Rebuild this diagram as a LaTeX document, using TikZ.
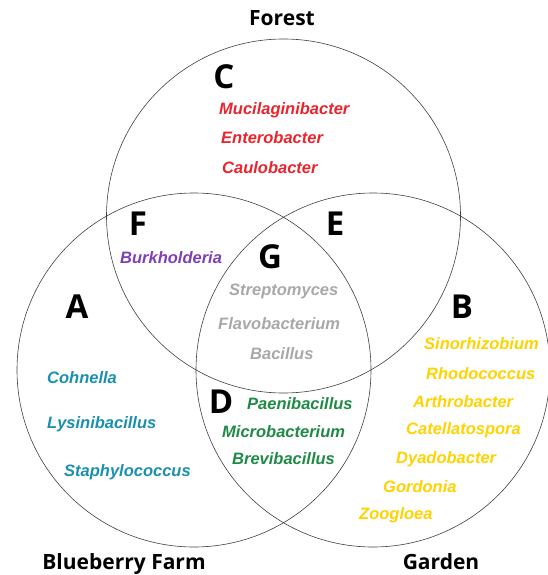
\documentclass[tikz,border=0pt]{standalone}
\usepackage{fontspec}
\setmainfont{Liberation Sans}
\newfontfamily\labfont{Open Sans}
\definecolor{cred}{HTML}{E8242C}
\definecolor{cpurple}{HTML}{7E3FB4}
\definecolor{cteal}{HTML}{1A8FAE}
\definecolor{cgreen}{HTML}{1E8A46}
\definecolor{cyellow}{HTML}{FFD200}
\definecolor{cgray}{HTML}{A8A8A8}
\begin{document}
\begin{tikzpicture}[x=1pt,y=-1pt,
  setcircle/.style={draw=black!75,line width=0.6pt},
  species/.style={anchor=base west,inner sep=0pt,font=\bfseries\itshape\fontsize{16.5}{18}\selectfont},
  region/.style={anchor=center,inner sep=0pt,font=\labfont\bfseries\fontsize{33}{36}\selectfont},
  setlabel/.style={anchor=base,inner sep=0pt,font=\labfont\bfseries\fontsize{21}{24}\selectfont}]
\useasboundingbox (0,0) rectangle (547,575);
\draw[setcircle] (283.5,216) circle[radius=177];
\draw[setcircle] (194,370) circle[radius=177];
\draw[setcircle] (373,370) circle[radius=177];
% set labels
\node[setlabel] (forest) at (282,26) {Forest};
\node[setlabel] (farm) at (124,569) {Blueberry Farm};
\node[setlabel] (garden) at (441,569) {Garden};
% region letters
\node[region] (rA) at (77,307) {A};
\node[region] (rB) at (462,307) {B};
\node[region] (rC) at (224,77) {C};
\node[region] (rD) at (221,402) {D};
\node[region] (rE) at (335,224) {E};
\node[region] (rF) at (138,224) {F};
\node[region] (rG) at (270,257) {G};
% C: forest only
\node[species,text=cred] (s1) at (219,115) {Mucilaginibacter};
\node[species,text=cred] (s2) at (221,143) {Enterobacter};
\node[species,text=cred] (s3) at (222,173) {Caulobacter};
% F
\node[species,text=cpurple] (s4) at (120,263) {Burkholderia};
% G
\node[species,text=cgray] (s5) at (229,295) {Streptomyces};
\node[species,text=cgray] (s6) at (218,329) {Flavobacterium};
\node[species,text=cgray] (s7) at (250,359) {Bacillus};
% A
\node[species,text=cteal] (s8) at (47,383) {Cohnella};
\node[species,text=cteal] (s9) at (47,428) {Lysinibacillus};
\node[species,text=cteal] (s10) at (64,476) {Staphylococcus};
% D
\node[species,text=cgreen] (s11) at (247,409) {Paenibacillus};
\node[species,text=cgreen] (s12) at (222,437) {Microbacterium};
\node[species,text=cgreen] (s13) at (232,464) {Brevibacillus};
% B
\node[species,text=cyellow] (s14) at (424,349) {Sinorhizobium};
\node[species,text=cyellow] (s15) at (426,379) {Rhodococcus};
\node[species,text=cyellow] (s16) at (413,407) {Arthrobacter};
\node[species,text=cyellow] (s17) at (406,434) {Catellatospora};
\node[species,text=cyellow] (s18) at (396,463) {Dyadobacter};
\node[species,text=cyellow] (s19) at (383,492) {Gordonia};
\node[species,text=cyellow] (s20) at (359,519) {Zoogloea};
\end{tikzpicture}
\end{document}
